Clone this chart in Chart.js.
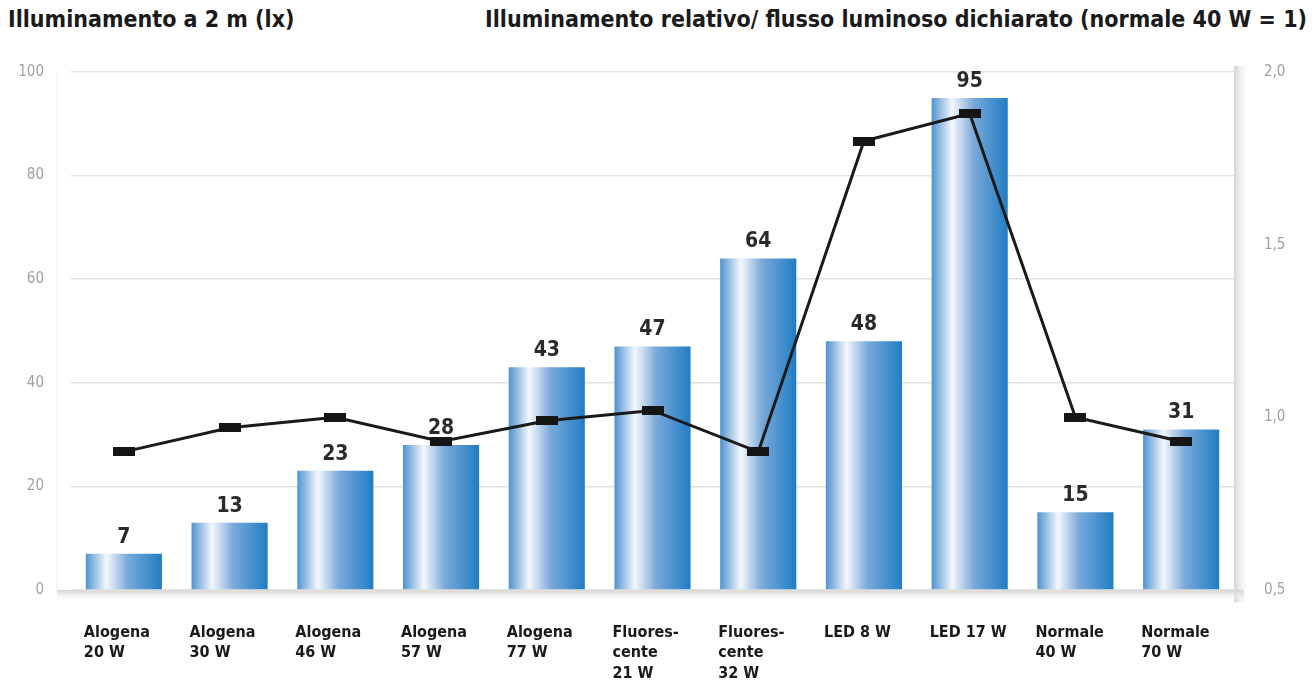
<!DOCTYPE html>
<html>
<head>
<meta charset="utf-8">
<script src="https://cdn.jsdelivr.net/npm/chart.js@4"></script>
<style>
  body { margin: 0; background: #fff; }
  #wrap { position: relative; width: 1315px; height: 690px; }
  .title { position: absolute; top: 6px; font-family: 'Liberation Sans Narrow', 'DejaVu Sans Condensed', sans-serif; font-weight: bold; font-size: 23px; color: #1a1a1a; white-space: nowrap; }
  #tLeft { left: 8px; }
  #tRight { right: 8px; }
  canvas { position: absolute; left: 0; top: 0; }
</style>
</head>
<body>
<div id="wrap">
  <div class="title" id="tLeft">Illuminamento a 2 m (lx)</div>
  <div class="title" id="tRight">Illuminamento relativo/ flusso luminoso dichiarato (normale 40 W = 1)</div>
  <canvas id="chart" width="1315" height="690"></canvas>
</div>
<script>
const lamps = [
    ['Alogena', '20 W'], ['Alogena', '30 W'], ['Alogena', '46 W'], ['Alogena', '57 W'], ['Alogena', '77 W'],
    ['Fluores-', 'cente', '21 W'], ['Fluores-', 'cente', '32 W'], 'LED 8 W', 'LED 17 W',
    ['Normale', '40 W'], ['Normale', '70 W']
];
const lux = [7, 13, 23, 28, 43, 47, 64, 48, 95, 15, 31];
const relFlux = [0.90, 0.97, 1.0, 0.93, 0.99, 1.02, 0.90, 1.80, 1.88, 1.0, 0.93];
const leftTicks = [0, 20, 40, 60, 80, 100];
const rightTicks = [0.5, 1.0, 1.5, 2.0];

const fontFam = "'Liberation Sans Narrow', 'DejaVu Sans Condensed', sans-serif";
const barPct = 0.72;

// black dash used as point marker
const dash = document.createElement('canvas');
dash.width = 22; dash.height = 9;
const dctx = dash.getContext('2d');
dctx.fillStyle = '#151515';
dctx.fillRect(0, 0, 22, 9);

function barGradient(c) {
    const chart = c.chart;
    const x = chart.scales.x;
    if (!x || !chart.chartArea || c.dataIndex === undefined) return '#3a8acb';
    const cx = x.getPixelForValue(c.dataIndex);
    const w = (x.width / lamps.length) * barPct;
    const g = chart.ctx.createLinearGradient(cx - w / 2, 0, cx + w / 2, 0);
    g.addColorStop(0, '#4f93d0');
    g.addColorStop(0.27, '#f4f7fc');
    g.addColorStop(0.55, '#7aa9da');
    g.addColorStop(1, '#1f7dc4');
    return g;
}

const frame = {
    id: 'frame',
    beforeDraw(chart) {
        const { ctx, chartArea: a } = chart;
        ctx.save();
        let g = ctx.createLinearGradient(a.right, 0, a.right + 16, 0);
        g.addColorStop(0, '#d4d4d4');
        g.addColorStop(1, 'rgba(255,255,255,0)');
        ctx.fillStyle = g;
        ctx.fillRect(a.right, a.top - 6, 16, a.bottom - a.top + 18);
        g = ctx.createLinearGradient(0, a.bottom, 0, a.bottom + 12);
        g.addColorStop(0, '#d8d2cc');
        g.addColorStop(1, 'rgba(255,255,255,0)');
        ctx.fillStyle = g;
        ctx.fillRect(a.left - 14, a.bottom, a.right - a.left + 24, 12);
        ctx.strokeStyle = '#ececec';
        ctx.lineWidth = 1;
        ctx.beginPath();
        ctx.moveTo(a.left - 14, a.top);
        ctx.lineTo(a.left - 14, a.bottom);
        ctx.stroke();
        ctx.restore();
    }
};

const barValues = {
    id: 'barValues',
    afterDatasetsDraw(chart) {
        const { ctx } = chart;
        const meta = chart.getDatasetMeta(1);
        ctx.save();
        ctx.font = 'bold 21px ' + fontFam;
        ctx.fillStyle = '#2a2a2a';
        ctx.textAlign = 'center';
        ctx.textBaseline = 'bottom';
        meta.data.forEach((bar, i) => {
            ctx.fillText(String(lux[i]), bar.x, bar.y - 6);
        });
        ctx.restore();
    }
};

new Chart(document.getElementById('chart'), {
    data: {
        labels: lamps,
        datasets: [{
            type: 'line',
            data: relFlux,
            yAxisID: 'y2',
            borderColor: '#1a1a1a',
            borderWidth: 3,
            pointStyle: dash,
            pointRadius: 6,
            pointHoverRadius: 6,
            tension: 0,
            order: 0
        }, {
            type: 'bar',
            data: lux,
            yAxisID: 'y',
            backgroundColor: barGradient,
            borderWidth: 0,
            categoryPercentage: 1,
            barPercentage: barPct,
            order: 1
        }]
    },
    options: {
        responsive: false,
        animation: false,
        layout: { padding: { top: 72, right: 0, left: 0, bottom: 0 } },
        scales: {
            x: {
                grid: { display: false },
                border: { display: false },
                ticks: {
                    color: '#1a1a1a',
                    font: { family: fontFam, size: 16, weight: 'bold', lineHeight: 1.3 },
                    align: 'start',
                    labelOffset: -40,
                    padding: 24,
                    maxRotation: 0,
                    autoSkip: false
                },
                afterFit: s => { s.height = 100; }
            },
            y: {
                position: 'left',
                min: 0, max: 100,
                afterBuildTicks: s => { s.ticks = leftTicks.map(v => ({ value: v })); },
                grid: { color: '#e2e2e2', lineWidth: 1.5, drawTicks: false },
                border: { display: false },
                ticks: { color: '#a0a0a0', font: { family: fontFam, size: 15 }, padding: 27 },
                afterFit: s => { s.width = 71; }
            },
            y2: {
                position: 'right',
                min: 0.5, max: 2.0,
                afterBuildTicks: s => { s.ticks = rightTicks.map(v => ({ value: v })); },
                grid: { display: false },
                border: { display: false },
                ticks: {
                    color: '#a0a0a0',
                    font: { family: fontFam, size: 15 },
                    padding: 22,
                    callback: v => v.toFixed(1).replace('.', ',')
                },
                afterFit: s => { s.width = 81; }
            }
        },
        plugins: {
            legend: { display: false },
            tooltip: { enabled: false }
        }
    },
    plugins: [frame, barValues]
});
</script>
</body>
</html>
